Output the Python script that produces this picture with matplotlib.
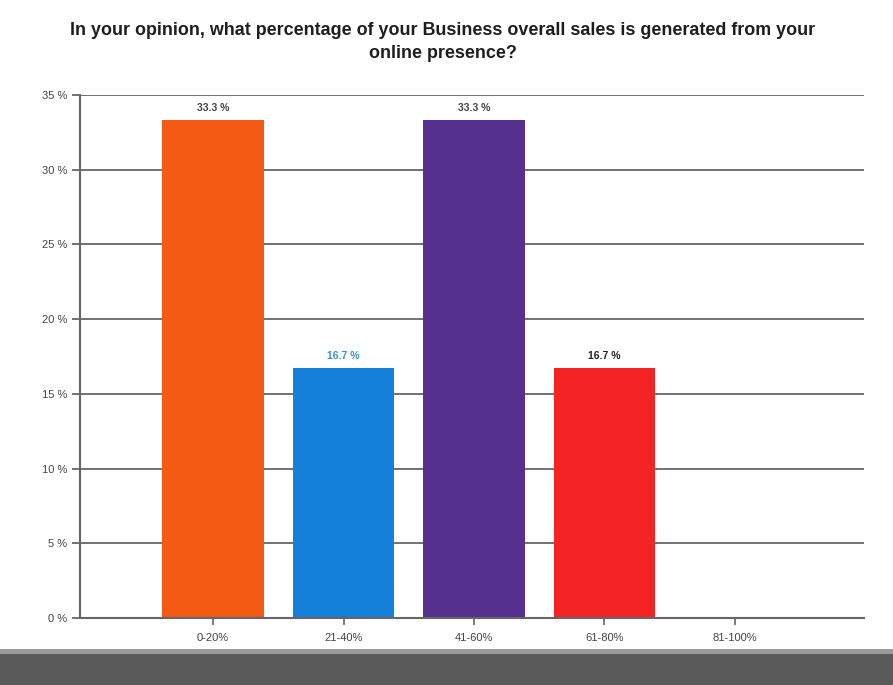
import matplotlib
matplotlib.use("Agg")
import matplotlib.pyplot as plt
from matplotlib.patches import Rectangle
import numpy as np

plt.rcParams['font.family'] = ['Liberation Sans', 'DejaVu Sans']

categories = ["0-20%", "21-40%", "41-60%", "61-80%", "81-100%"]
values = [33.3, 16.7, 33.3, 16.7, 0.0]
bar_colors = ["#F55A14", "#1580DA", "#55308E", "#F52424", "#CCCCCC"]
label_colors = ["#444444", "#3A8FDC", "#444444", "#222222", "#444444"]
y_ticks = [0, 5, 10, 15, 20, 25, 30, 35]
title = ("In your opinion, what percentage of your Business overall sales is generated from your\n"
         "online presence?")

fig = plt.figure(figsize=(8.93, 6.85), dpi=100)
fig.patch.set_facecolor("white")
ax = fig.add_axes([0.0896, 0.0978, 0.878, 0.7635])

x = np.arange(len(categories))
ax.set_xlim(-1.02, 4.99)
ax.set_ylim(0, 35)

grid_color = "#666666"
for t in y_ticks[1:]:
    ax.axhline(t, color=grid_color, lw=1.3, zorder=1)

bars = ax.bar(x, values, width=0.78, color=bar_colors, zorder=2)
for xi, v, c in zip(x, values, label_colors):
    if v > 0:
        ax.text(xi, v + 0.5, f"{v:.1f} %", ha="center", va="bottom",
                fontsize=7.5, fontweight="bold", color=c, zorder=3)

for s in ["top", "right"]:
    ax.spines[s].set_visible(False)
ax.spines["left"].set_color(grid_color)
ax.spines["left"].set_linewidth(1.5)
ax.spines["bottom"].set_color(grid_color)
ax.spines["bottom"].set_linewidth(1.5)

ax.set_yticks(y_ticks)
ax.set_yticklabels([f"{t} %" for t in y_ticks], fontsize=8, color="#444444")
ax.set_xticks(x)
ax.set_xticklabels(categories, fontsize=8, color="#444444")
ax.tick_params(axis="y", length=6, width=1.3, color=grid_color, pad=3)
ax.tick_params(axis="x", length=5, width=1.2, color=grid_color, pad=6)

fig.text(0.496, 0.939, title, ha="center", va="center", fontsize=12.9,
         fontweight="bold", color="#1E1E1E", linespacing=1.5)

# dark strip along the lower edge
fig.patches.append(Rectangle((0.0, 0.0), 1.0, 0.05, transform=fig.transFigure,
                             facecolor="#5A5A5A", edgecolor="none", zorder=0))
fig.patches.append(Rectangle((0.0, 0.045), 1.0, 0.008, transform=fig.transFigure,
                             facecolor="#9A9A9A", edgecolor="none", zorder=0))

fig.savefig("out.png", dpi=100)
